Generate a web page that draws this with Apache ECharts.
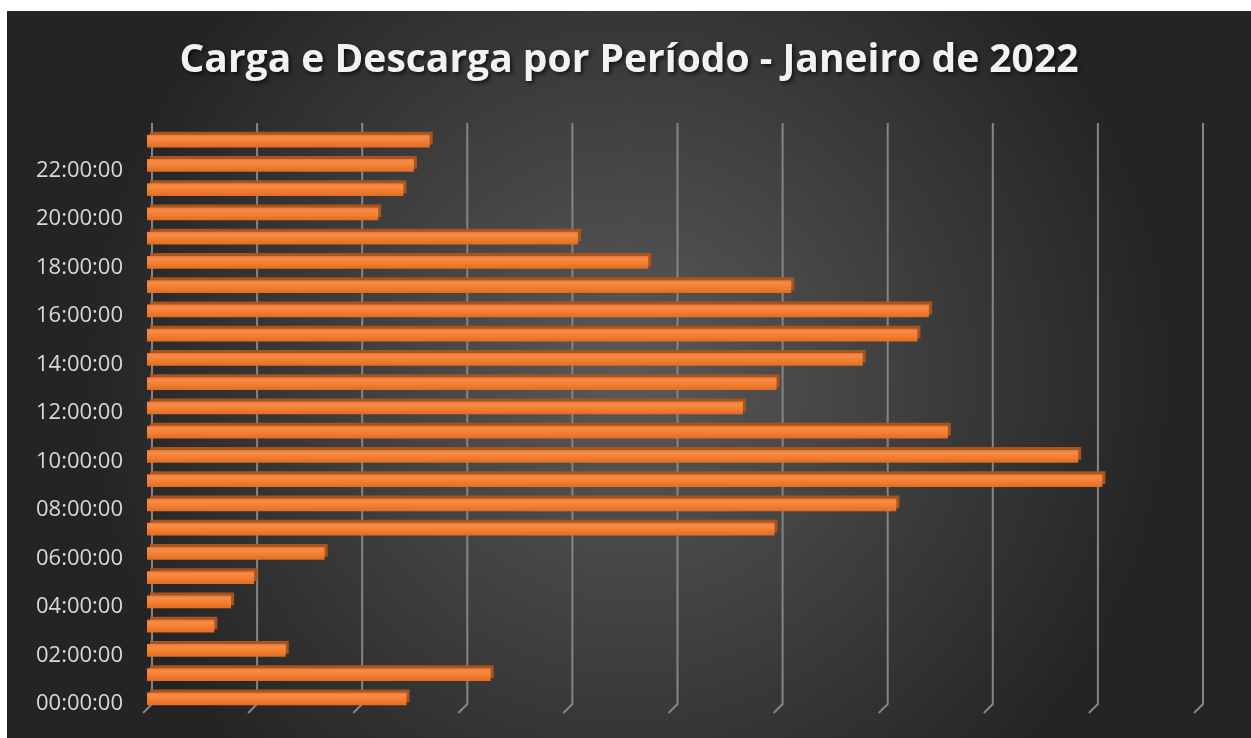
<!DOCTYPE html>
<html>
<head>
<meta charset="utf-8">
<script src="https://cdn.jsdelivr.net/npm/echarts@6/dist/echarts.min.js"></script>
<style>
html,body{margin:0;padding:0;background:#ffffff;}
#chart{position:absolute;left:7px;top:11px;width:1244px;height:727px;}
</style>
</head>
<body>
<div id="chart"></div>
<script>
var categories = ['00:00:00','01:00:00','02:00:00','03:00:00','04:00:00','05:00:00','06:00:00','07:00:00','08:00:00','09:00:00','10:00:00','11:00:00','12:00:00','13:00:00','14:00:00','15:00:00','16:00:00','17:00:00','18:00:00','19:00:00','20:00:00','21:00:00','22:00:00','23:00:00'];
var values = [247, 327, 132, 64, 80, 102, 169, 597, 713, 909, 886, 762, 567, 599, 681, 733, 744, 613, 477, 410, 220, 244, 254, 269];
var gridValues = [0, 100, 200, 300, 400, 500, 600, 700, 800, 900, 1000];
var title = 'Carga e Descarga por Período - Janeiro de 2022';

var chart = echarts.init(document.getElementById('chart'));
chart.setOption({
  animation: false,
  backgroundColor: {
    type: 'radial', x: 0.5, y: 0.5, r: 0.75,
    colorStops: [{offset: 0, color: '#5a5a5a'}, {offset: 1, color: '#242424'}]
  },
  title: {
    text: title,
    left: 'center',
    top: 25,
    textStyle: {
      color: '#f2f2f2', fontFamily: 'Open Sans', fontWeight: 'bold', fontSize: 39,
      textShadowColor: 'rgba(0,0,0,0.7)', textShadowBlur: 4, textShadowOffsetX: 2, textShadowOffsetY: 2
    }
  },
  grid: {left: 140, top: 118, width: 1051, height: 582},
  xAxis: {
    type: 'value', min: 0, max: 1000, interval: 100,
    axisLabel: {show: false}, axisLine: {show: false}, axisTick: {show: false},
    splitLine: {show: false}
  },
  yAxis: {
    type: 'category', data: categories,
    axisLine: {show: false}, axisTick: {show: false},
    axisLabel: {
      interval: 1, margin: 24,
      formatter: '{a|{value}}',
      rich: {a: {color: '#d9d9d9', fontFamily: 'Open Sans', fontSize: 22, padding: [10, 0, 0, 0]}}
    }
  },
  series: [
    {
      type: 'custom', z: 1, silent: true,
      data: gridValues.map(function (v) { return [v, 0]; }),
      renderItem: function (params, api) {
        var cs = params.coordSys;
        var x = api.coord([api.value(0), 0])[0];
        var top = cs.y, bottom = cs.y + cs.height;
        return {
          type: 'polyline',
          shape: {points: [[x + 5, top - 6], [x + 5, bottom - 7], [x - 4, bottom + 2]]},
          style: {stroke: '#858585', lineWidth: 2, fill: null}
        };
      }
    },
    {
      type: 'bar', z: 2, data: values, barWidth: '52%',
      itemStyle: {
        color: {
          type: 'linear', x: 0, y: 0, x2: 0, y2: 1,
          colorStops: [
            {offset: 0, color: '#e8773a'},
            {offset: 0.2, color: '#f78c45'},
            {offset: 0.6, color: '#f27d30'},
            {offset: 1, color: '#e06d24'}
          ]
        },
        shadowColor: '#a9541d', shadowBlur: 0, shadowOffsetX: 3, shadowOffsetY: -3
      }
    }
  ]
});
</script>
</body>
</html>
